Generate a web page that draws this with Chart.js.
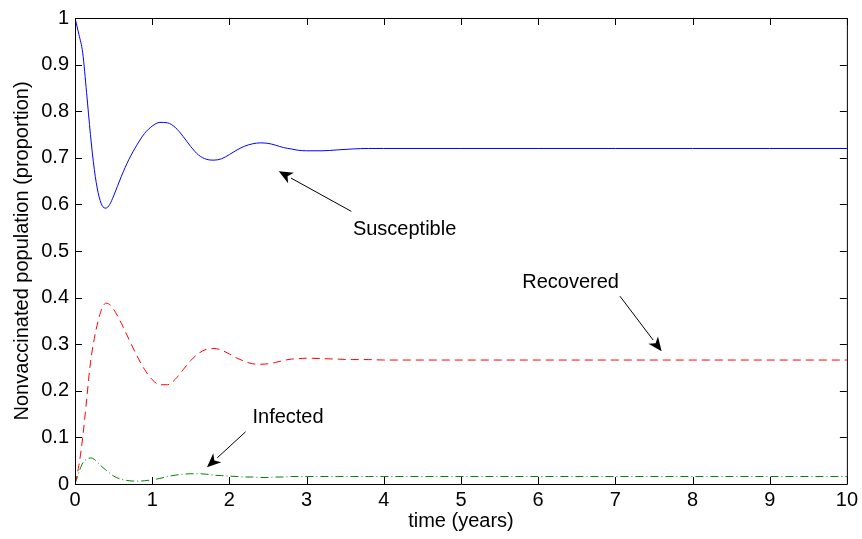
<!DOCTYPE html>
<html>
<head>
<meta charset="utf-8">
<script src="https://cdn.jsdelivr.net/npm/chart.js@4.4.1/dist/chart.umd.min.js"></script>
<style>
  body { margin: 0; background: #fff; }
  canvas { display: block; }
</style>
</head>
<body>
<canvas id="sirChart" width="862" height="539"></canvas>
<script>
// time in years, shared by all three curves
const times = [0, 0.05, 0.1, 0.15, 0.2, 0.25, 0.3, 0.35, 0.4, 0.45, 0.5, 0.6, 0.7, 0.8, 0.9,
  1.0, 1.1, 1.2, 1.3, 1.4, 1.5, 1.6, 1.7, 1.8, 1.9, 2.0, 2.1, 2.2, 2.3, 2.4, 2.5, 2.6, 2.7, 2.8, 2.9,
  3.0, 3.2, 3.4, 3.6, 3.8, 4, 5, 6, 7, 8, 9, 10];

const susceptible = [1.0, 0.965, 0.925, 0.84, 0.75, 0.675, 0.625, 0.598, 0.592, 0.6, 0.618, 0.66, 0.697, 0.727, 0.752,
  0.768, 0.776, 0.775, 0.765, 0.746, 0.724, 0.706, 0.697, 0.695, 0.698, 0.707, 0.717, 0.725, 0.73, 0.732, 0.731, 0.727, 0.722, 0.719, 0.716,
  0.715, 0.715, 0.717, 0.719, 0.72, 0.72, 0.72, 0.72, 0.72, 0.72, 0.72, 0.72];

const recovered = [0, 0.04, 0.1, 0.18, 0.26, 0.312, 0.35, 0.377, 0.388, 0.385, 0.375, 0.345, 0.31, 0.276, 0.246,
  0.224, 0.213, 0.213, 0.225, 0.245, 0.265, 0.28, 0.289, 0.291, 0.287, 0.279, 0.27, 0.263, 0.258, 0.257, 0.258, 0.261, 0.265, 0.268, 0.269,
  0.27, 0.269, 0.268, 0.267, 0.267, 0.266, 0.266, 0.266, 0.266, 0.266, 0.266, 0.266];

const infected = [0, 0.025, 0.045, 0.053, 0.056, 0.053, 0.045, 0.037, 0.03, 0.023, 0.017, 0.01, 0.007, 0.006, 0.007,
  0.009, 0.012, 0.016, 0.019, 0.021, 0.022, 0.022, 0.021, 0.019, 0.018, 0.017, 0.016, 0.015, 0.015, 0.014, 0.014, 0.015, 0.015, 0.016, 0.016,
  0.016, 0.016, 0.016, 0.016, 0.016, 0.016, 0.016, 0.016, 0.016, 0.016, 0.016, 0.016];

// text labels with arrows, in data units
const notes = [
  { text: 'Susceptible', tx: 4.27, ty: 0.547, x0: 3.58, y0: 0.585, x1: 2.64, y1: 0.671 },
  { text: 'Recovered',   tx: 6.42, ty: 0.433, x0: 7.06, y0: 0.403, x1: 7.6,  y1: 0.285 },
  { text: 'Infected',    tx: 2.76, ty: 0.142, x0: 2.21, y0: 0.112, x1: 1.71, y1: 0.036 }
];

const FONT = '"Liberation Sans", Arial, Helvetica, sans-serif';

function pts(vals) {
  return times.map((t, i) => ({ x: t, y: vals[i] }));
}

// box around the plot with inward ticks, matlab style
const framePlugin = {
  id: 'frame',
  afterDraw(chart) {
    const { ctx, chartArea: a, scales } = chart;
    const len = 7;
    ctx.save();
    ctx.strokeStyle = '#000';
    ctx.lineWidth = 1;
    ctx.beginPath();
    ctx.rect(a.left + 0.5, a.top + 0.5, a.right - a.left, a.bottom - a.top);
    ctx.stroke();
    ctx.beginPath();
    scales.x.ticks.forEach(t => {
      const px = Math.round(scales.x.getPixelForValue(t.value)) + 0.5;
      ctx.moveTo(px, a.bottom); ctx.lineTo(px, a.bottom - len);
      ctx.moveTo(px, a.top); ctx.lineTo(px, a.top + len);
    });
    scales.y.ticks.forEach(t => {
      const py = Math.round(scales.y.getPixelForValue(t.value)) + 0.5;
      ctx.moveTo(a.left, py); ctx.lineTo(a.left + len, py);
      ctx.moveTo(a.right, py); ctx.lineTo(a.right - len, py);
    });
    ctx.stroke();

    // annotations
    ctx.font = '20px ' + FONT;
    ctx.fillStyle = '#000';
    ctx.textAlign = 'center';
    ctx.textBaseline = 'middle';
    notes.forEach(n => {
      const X = v => scales.x.getPixelForValue(v);
      const Y = v => scales.y.getPixelForValue(v);
      ctx.fillText(n.text, X(n.tx), Y(n.ty));
      const x0 = X(n.x0), y0 = Y(n.y0), x1 = X(n.x1), y1 = Y(n.y1);
      const ang = Math.atan2(y1 - y0, x1 - x0);
      const hl = 14, hw = 6;
      const bx = x1 - hl * Math.cos(ang), by = y1 - hl * Math.sin(ang);
      ctx.beginPath();
      ctx.moveTo(x0, y0); ctx.lineTo(bx, by);
      ctx.stroke();
      ctx.beginPath();
      ctx.moveTo(x1, y1);
      ctx.lineTo(bx + hw * Math.sin(ang), by - hw * Math.cos(ang));
      ctx.lineTo(x1 - (hl - 4) * Math.cos(ang), y1 - (hl - 4) * Math.sin(ang));
      ctx.lineTo(bx - hw * Math.sin(ang), by + hw * Math.cos(ang));
      ctx.closePath();
      ctx.fill();
    });
    ctx.restore();
  }
};

document.addEventListener('DOMContentLoaded', () => {
  const ctx = document.getElementById('sirChart').getContext('2d');

  new Chart(ctx, {
    type: 'line',
    data: {
      datasets: [
        {
          label: 'Susceptible',
          data: pts(susceptible),
          borderColor: 'rgb(0, 0, 255)',
          borderWidth: 1,
          pointRadius: 0,
          cubicInterpolationMode: 'monotone'
        },
        {
          label: 'Recovered',
          data: pts(recovered),
          borderColor: 'rgb(255, 0, 0)',
          borderWidth: 1,
          borderDash: [8, 5],
          pointRadius: 0,
          cubicInterpolationMode: 'monotone'
        },
        {
          label: 'Infected',
          data: pts(infected),
          borderColor: 'rgb(0, 128, 0)',
          borderWidth: 1,
          borderDash: [8, 3, 1, 3],
          pointRadius: 0,
          cubicInterpolationMode: 'monotone'
        }
      ]
    },
    options: {
      responsive: false,
      animation: false,
      layout: { padding: { top: 18, right: 14, left: 10, bottom: 6 } },
      plugins: {
        legend: { display: false },
        tooltip: { enabled: false }
      },
      scales: {
        x: {
          type: 'linear',
          min: 0,
          max: 10,
          grid: { display: false, drawTicks: false },
          border: { display: false },
          ticks: {
            stepSize: 1,
            padding: 4,
            color: '#000',
            font: { family: FONT, size: 20 },
            maxRotation: 0
          },
          title: {
            display: true,
            text: 'time (years)',
            color: '#000',
            font: { family: FONT, size: 20 },
            padding: { top: 0, bottom: 0 }
          },
          afterFit(scale) { scale.height = 49; }
        },
        y: {
          min: 0,
          max: 1,
          grid: { display: false, drawTicks: false },
          border: { display: false },
          ticks: {
            stepSize: 0.1,
            padding: 6,
            color: '#000',
            font: { family: FONT, size: 20 },
            callback: v => String(+v.toFixed(1))
          },
          title: {
            display: true,
            text: 'Nonvaccinated population (proportion)',
            color: '#000',
            font: { family: FONT, size: 20 },
            padding: { top: 0, bottom: 0 }
          },
          afterFit(scale) { scale.width = 65; }
        }
      }
    },
    plugins: [framePlugin]
  });
});
</script>
</body>
</html>
